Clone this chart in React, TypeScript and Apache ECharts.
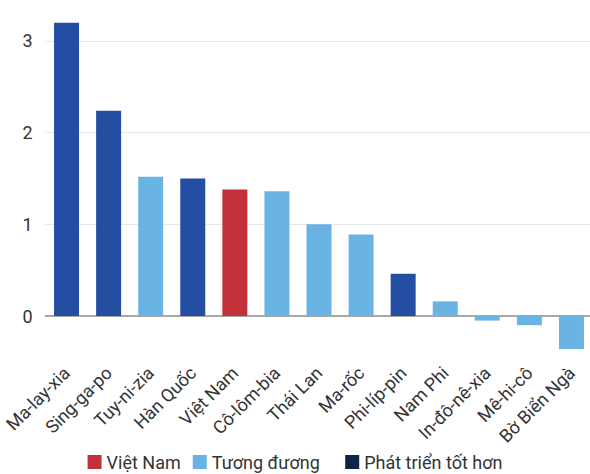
import React, { useEffect, useRef } from 'react';
import * as echarts from 'echarts';

const categories = [
  'Ma-lay-xia', 'Sing-ga-po', 'Tuy-ni-zia', 'Hàn Quốc', 'Việt Nam', 'Cô-lôm-bia',
  'Thái Lan', 'Ma-rốc', 'Phi-líp-pin', 'Nam Phi', 'In-đô-nê-xia', 'Mê-hi-cô', 'Bờ Biển Ngà',
];
const values = [3.2, 2.24, 1.52, 1.5, 1.38, 1.36, 1.0, 0.89, 0.46, 0.16, -0.05, -0.1, -0.36];
const groups = [
  'better', 'better', 'similar', 'better', 'vn', 'similar',
  'similar', 'similar', 'better', 'similar', 'similar', 'similar', 'similar',
];
const seriesNames = ['Việt Nam', 'Tương đương', 'Phát triển tốt hơn'];
const seriesKeys = ['vn', 'similar', 'better'];
const yTickLabels = [0, 1, 2, 3];

const barColors = ['#C1313A', '#69B4E3', '#234EA2'];
const legendColors = ['#C1313A', '#69B4E3', '#0B2547'];

export default function App() {
  const ref = useRef<HTMLDivElement>(null);
  useEffect(() => {
    const chart = echarts.init(ref.current!, null, { renderer: 'svg' });
    const font = 'Roboto, sans-serif';
    chart.setOption({
      animation: false,
      textStyle: { fontFamily: font },
      grid: {
        left: 45.5, right: -2.5, top: -50.67, bottom: 66.33,
        containLabel: false, outerBoundsMode: 'none',
      },
      legend: {
        bottom: -2,
        left: 'center',
        icon: 'rect',
        itemWidth: 14,
        itemHeight: 14,
        itemGap: 12,
        textStyle: { fontSize: 18, color: '#333', fontFamily: font },
        formatter: (n: string) => (n === 'Tương đương' ? n + '   ' : n),
        data: seriesNames.map((n, i) => ({ name: n, itemStyle: { color: legendColors[i] } })),
      },
      xAxis: {
        type: 'category',
        data: categories,
        axisLine: { show: true, onZero: true, lineStyle: { color: '#A8A8A8', width: 2 } },
        axisTick: { show: false },
        axisLabel: {
          rotate: 45,
          margin: -38,
          interval: 0,
          fontSize: 18,
          color: '#333',
          fontFamily: font,
        },
      },
      yAxis: {
        type: 'value',
        min: -1,
        max: 4,
        interval: 1,
        axisLine: { show: false },
        axisTick: { show: false },
        axisLabel: {
          fontSize: 18,
          color: '#333',
          margin: 13,
          fontFamily: font,
          formatter: (v: number) => (yTickLabels.includes(v) ? String(v) : ''),
        },
        splitLine: {
          show: true,
          showMinLine: false,
          showMaxLine: false,
          lineStyle: { color: '#E8E8E8', width: 1 },
        },
      },
      series: seriesKeys.map((k, i) => ({
        name: seriesNames[i],
        type: 'bar',
        barWidth: 25,
        barGap: '-100%',
        itemStyle: { color: barColors[i] },
        data: values.map((v, j) => (groups[j] === k ? v : '-')),
      })),
    });
    return () => chart.dispose();
  }, []);
  return <div ref={ref} style={{ position: 'absolute', left: 0, top: 0, width: 590, height: 474 }} />;
}
